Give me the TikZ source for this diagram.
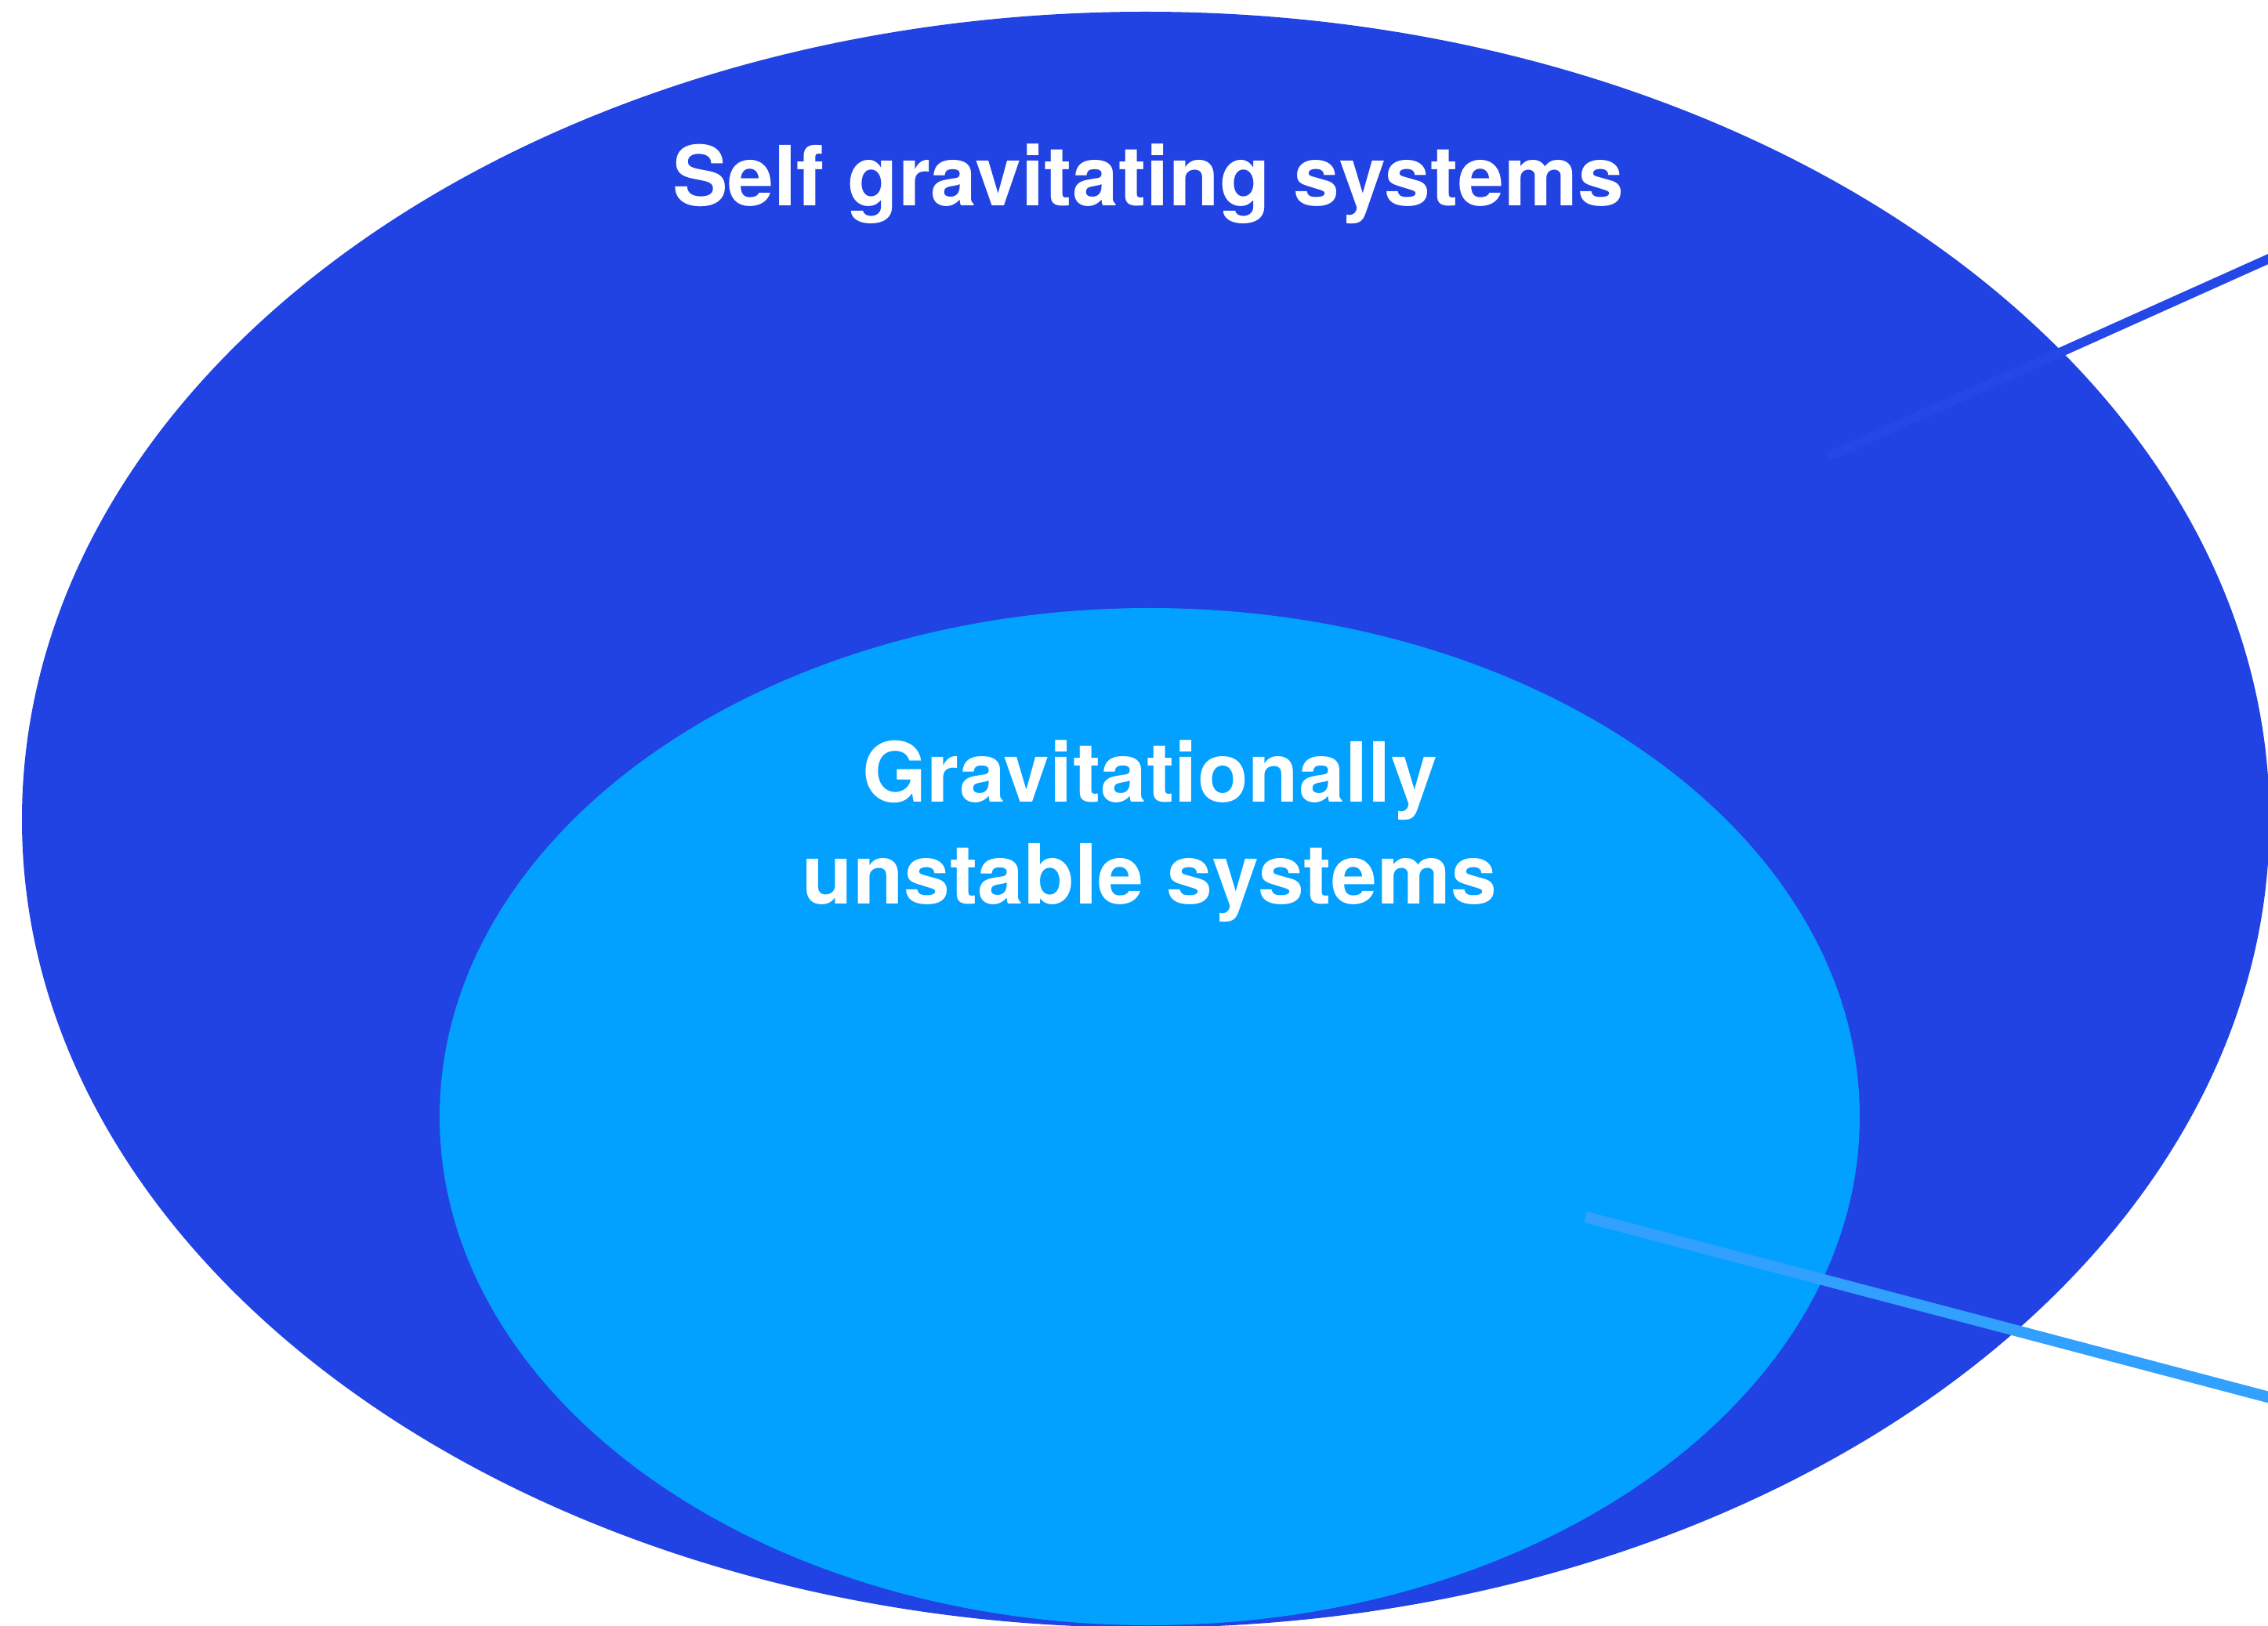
\documentclass[tikz,border=0pt]{standalone}
\usepackage{fontspec}
\setmainfont{TeX Gyre Heros}

\definecolor{selfblue}{HTML}{2243E3}
\definecolor{selfline}{HTML}{2447E7}
\definecolor{unstblue}{HTML}{02A1FF}
\definecolor{unstline}{HTML}{31A0FE}

\begin{document}
\begin{tikzpicture}[
    label text/.style={text=white, font=\bfseries\fontsize{30.1}{37}\selectfont, align=center}]
                \useasboundingbox (0,0) rectangle (28.94,20.74);
                % outer set and its pointer line
                \fill[selfblue] (14.62,10.28) ellipse (14.34cm and 10.31cm);
                \coordinate (selfTip) at (23.32,14.91);
                \coordinate (selfEnd) at (29.40,17.64);
                \draw[selfline, line width=3.4pt] (selfTip) -- (selfEnd);
                \node[label text, anchor=base] (self) at (14.65,18.11) {Self gravitating systems};
                % inner set and its pointer line
                \fill[unstblue] (14.67,6.49) ellipse (9.06cm and 6.49cm);
                \node[label text, anchor=base] (unstable) at (14.67,9.20) {Gravitationally\\unstable systems};
                \coordinate (unstTip) at (20.23,5.21);
                \coordinate (unstEnd) at (29.40,2.79);
                \draw[unstline, line width=4.1pt] (unstTip) -- (unstEnd);
            \end{tikzpicture}
\end{document}
